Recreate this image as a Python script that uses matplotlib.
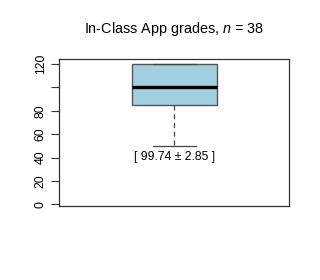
import matplotlib
matplotlib.use("Agg")
import matplotlib.pyplot as plt

plt.rcParams['font.family'] = ['Liberation Sans', 'DejaVu Sans']
plt.rcParams['mathtext.fontset'] = 'custom'
plt.rcParams['mathtext.it'] = 'Liberation Sans:italic'
plt.rcParams['mathtext.rm'] = 'Liberation Sans'

# data
q1 = [85]
median = [100]
q3 = [120]
whisk_lo = [50]
whisk_hi = [120]
mean_val = 99.74
se_val = 2.85
n = 38
yticks = [0, 20, 40, 60, 80, 100, 120]
yticklabels = ['0', '20', '40', '60', '80', '', '120']

fig = plt.figure(figsize=(3.2, 2.8), dpi=100)
ax = fig.add_axes([0.185, 0.264, 0.719, 0.525])

stats = [dict(med=median[0], q1=q1[0], q3=q3[0], whislo=whisk_lo[0], whishi=whisk_hi[0], fliers=[])]
ax.bxp(stats, positions=[1], widths=0.37, patch_artist=True, showfliers=False,
       boxprops=dict(facecolor='#a2d0e1', edgecolor='#555555', linewidth=1.0),
       medianprops=dict(color='black', linewidth=2.4),
       whiskerprops=dict(color='#444444', linewidth=0.9, linestyle=(0, (4, 3))),
       capprops=dict(color='#444444', linewidth=0.9), capwidths=0.185)

ax.set_xlim(0.5, 1.5)
ax.set_ylim(-1.5, 124.3)
ax.set_xticks([])
ax.set_yticks(yticks)
ax.set_yticklabels(yticklabels, rotation=90, va='center', fontsize=8.8)
ax.tick_params(axis='y', length=6, width=0.8, color='#333333', pad=3)
for s in ax.spines.values():
    s.set_color('#333333')
    s.set_linewidth(0.9)

ax.text(1, whisk_lo[0] - 9.5, f"[ {mean_val:.2f} \u00b1 {se_val:.2f} ]",
        ha='center', va='center', fontsize=8.8)

fig.text(0.545, 0.895, f"In-Class App grades, $\\mathit{{n}}$ = {n}", ha='center', va='center',
         fontsize=10.4)

fig.savefig("out.png", dpi=100)
